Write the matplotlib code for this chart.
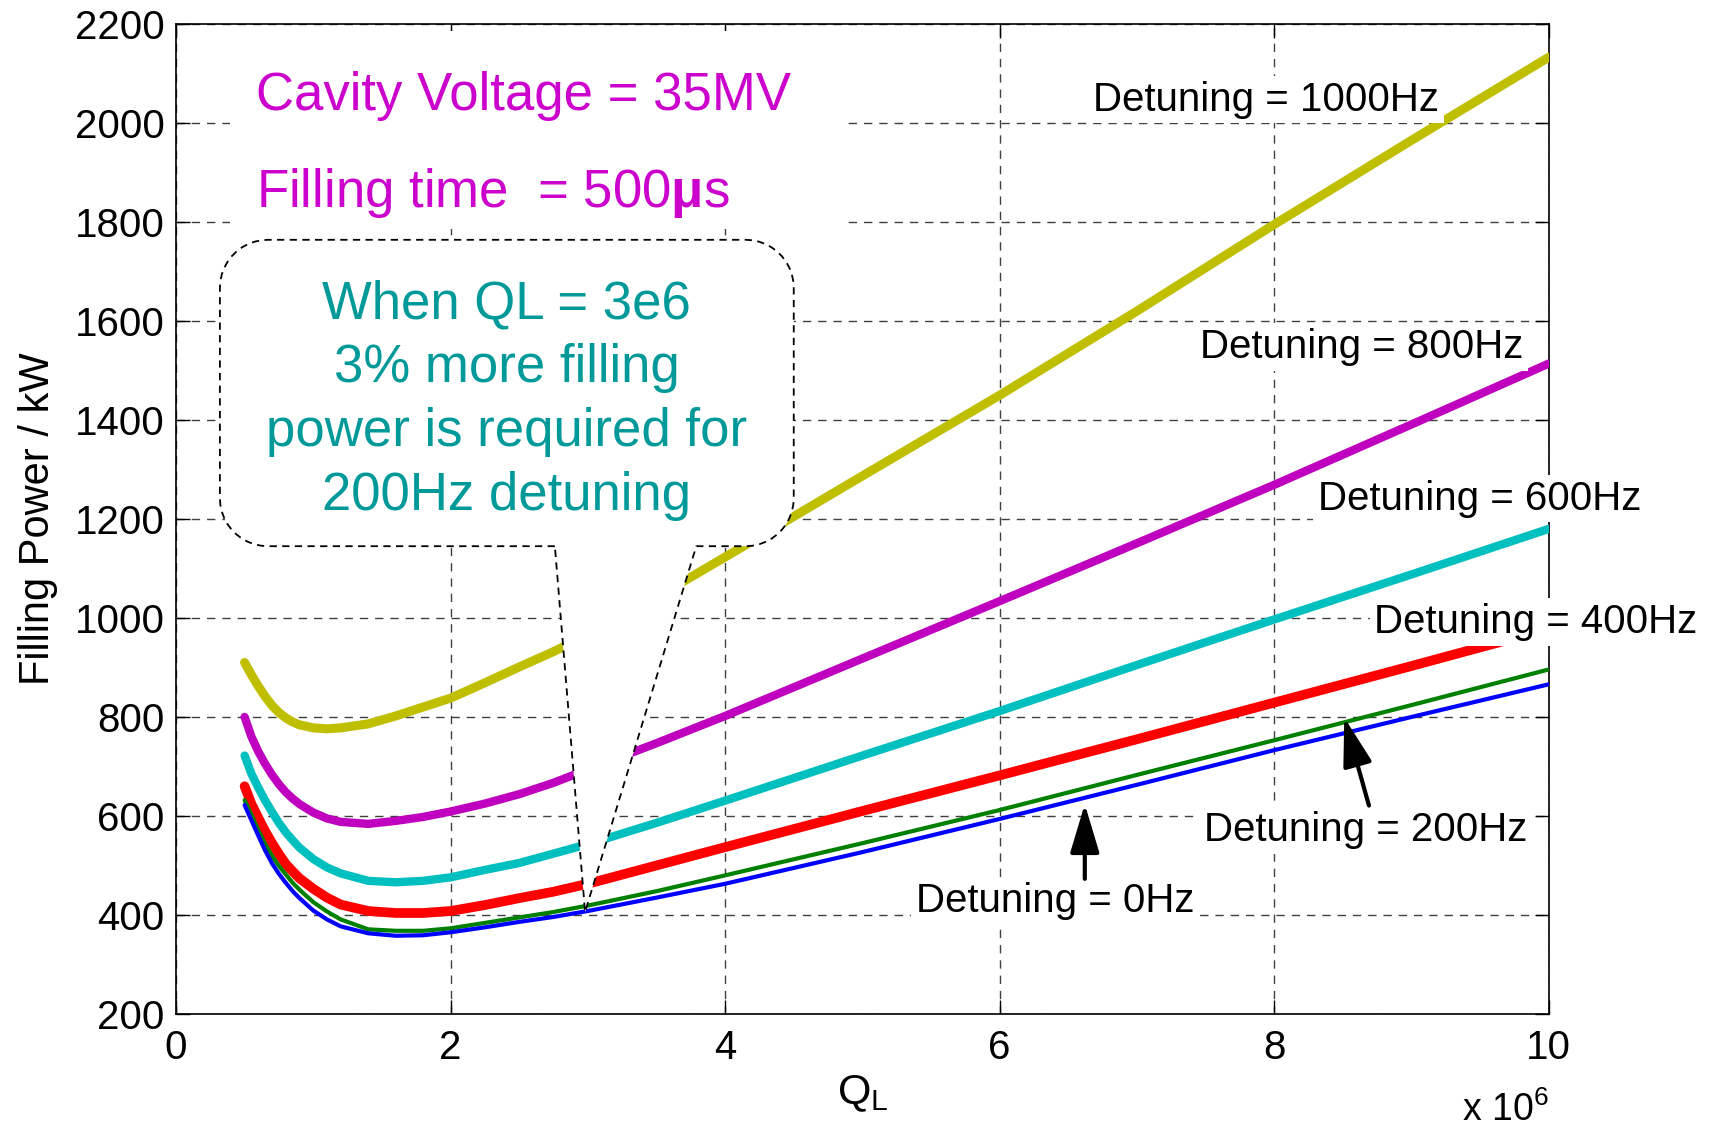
import numpy as np
import matplotlib
matplotlib.use("Agg")
import matplotlib.pyplot as plt
from matplotlib.patches import Polygon, Rectangle

plt.rcParams['font.family'] = ['Liberation Sans', 'DejaVu Sans']
plt.rcParams['mathtext.fontset'] = 'custom'
plt.rcParams['mathtext.rm'] = 'Liberation Sans'
plt.rcParams['mathtext.it'] = 'Liberation Sans:italic'
plt.rcParams['mathtext.bf'] = 'Liberation Sans:bold'

# loaded Q (x 1e6) and filling power (kW)
ql = [0.5, 0.55, 0.6, 0.65, 0.7, 0.75, 0.8, 0.85, 0.9, 1.0, 1.1, 1.2, 1.4,
      1.6, 1.8, 2.0, 2.25, 2.5, 2.75, 3.0, 3.5, 4, 5, 6, 7, 8, 9, 10]
p_1000 = [910, 885, 862, 841, 823, 809, 798, 790, 784, 778, 776, 778, 786,
          802, 820, 838, 869, 901, 932, 966, 1042, 1123, 1287, 1450, 1620,
          1795, 1965, 2133]
p_800 = [800, 760, 730, 705, 683, 664, 648, 635, 624, 607, 595, 588, 584,
         590, 598, 609, 625, 644, 667, 694, 747, 802, 918, 1034, 1151, 1269,
         1391, 1514]
p_600 = [722, 685, 657, 631, 608, 586, 567, 551, 536, 513, 496, 484, 469,
         466, 469, 476, 491, 505, 524, 543, 586, 631, 722, 812, 905, 997,
         1088, 1180]
p_400 = [660, 624, 596, 569, 545, 523, 503, 488, 474, 453, 435, 421, 408,
         404, 404, 408, 420, 434, 447, 463, 500, 537, 610, 682, 755, 829,
         903, 978]
p_200 = [632, 602, 571, 543, 519, 499, 482, 465, 451, 426, 407, 391, 371,
         368, 368, 373, 384, 395, 406, 419, 448, 480, 545, 612, 683, 753,
         824, 896]
p_0 = [622, 591, 560, 530, 504, 483, 465, 448, 434, 409, 391, 377, 363,
       358, 359, 365, 375, 386, 396, 408, 435, 463, 527, 594, 663, 733,
       800, 866]

curves = [
    (p_1000, '#bfbf00', 6.5),
    (p_800, '#bf00bf', 6.0),
    (p_600, '#00bfbf', 6.0),
    (p_400, '#ff0000', 7.0),
    (p_200, '#008000', 3.0),
    (p_0, '#0000ff', 3.0),
]

# curve labels: text, left x, baseline y
labels = [
    ("Detuning = 1000Hz", 6.68, 2025),
    ("Detuning = 800Hz", 7.46, 1525),
    ("Detuning = 600Hz", 8.32, 1219),
    ("Detuning = 400Hz", 8.73, 969),
    ("Detuning = 200Hz", 7.49, 549),
    ("Detuning = 0Hz", 5.39, 407),
]

note_lines = ["When QL = 3e6", "3% more filling", "power is required for", "200Hz detuning"]

fig = plt.figure(figsize=(17.15, 11.26), dpi=100)
ax = fig.add_axes([0.1026, 0.0995, 0.8005, 0.8792])

for vals, col, lw in curves:
    ax.plot(ql, vals, color=col, lw=lw, solid_capstyle='round',
            solid_joinstyle='round', zorder=3)

ax.set_xlim(0, 10)
ax.set_ylim(200, 2200)
ax.set_xticks([0, 2, 4, 6, 8, 10])
ax.set_yticks(range(200, 2201, 200))
ax.set_axisbelow(True)
ax.grid(True, color='0.25', lw=1.0, linestyle=(0, (6, 5)))
ax.tick_params(direction='in', length=10, width=1, top=True, right=True,
               labelsize=29)
ax.tick_params(axis='x', pad=11)
ax.tick_params(axis='y', pad=8)
for sp in ax.spines.values():
    sp.set_linewidth(1.2)

ax.set_ylabel("Filling Power / kW", fontsize=30)
ax.yaxis.set_label_coords(-0.086, 0.5)
ax.set_xlabel(r"Q$_{\mathrm{L}}$", fontsize=31)
ax.xaxis.set_label_coords(0.5, -0.06)
ax.text(1.0, -0.108, r"x 10$^{6}$", transform=ax.transAxes, ha='right',
        va='baseline', fontsize=27)

# white patch behind the magenta header text
ax.add_patch(Rectangle((0.39, 1786), 4.46, 400, facecolor='white',
                       edgecolor='none', zorder=1))
ax.text(0.58, 2026, "Cavity Voltage = 35MV", color='#cc00cc', fontsize=38,
        va='baseline', zorder=4)
ax.text(0.58, 1831, r"Filling time  = 500$\mathbf{\mu}$s", color='#cc00cc',
        fontsize=38, va='baseline', zorder=4)

# callout: rounded box with a wedge pointing at QL = 3e6
bx0, bx1, by0, by1 = 0.32, 4.50, 1145, 1764
w_left, w_right, tip = 2.76, 3.79, (2.98, 406)
r_px = 48
rx = r_px / (ax.get_position().width * 1715 / 10)
ry = r_px / (ax.get_position().height * 1126 / 2000)
t = np.linspace(0, np.pi / 2, 12)
pts = [(w_left, by0), (bx0 + rx, by0)]
pts += list(zip(bx0 + rx - rx * np.sin(t), by0 + ry - ry * np.cos(t)))
pts += list(zip(bx0 + rx - rx * np.cos(t), by1 - ry + ry * np.sin(t)))
pts += list(zip(bx1 - rx + rx * np.sin(t), by1 - ry + ry * np.cos(t)))
pts += list(zip(bx1 - rx + rx * np.cos(t), by0 + ry - ry * np.sin(t)))
pts += [(w_right, by0), tip]
ax.add_patch(Polygon(pts, closed=True, facecolor='white', edgecolor='black',
                     lw=1.3, linestyle=(0, (4, 3)), zorder=5))

note_y = [1606, 1477, 1348, 1219]
for line, yy in zip(note_lines, note_y):
    ax.text((bx0 + bx1) / 2, yy, line, color='#009999', fontsize=38,
            ha='center', va='baseline', zorder=6)

for txt, xx, yy in labels:
    ax.text(xx, yy, txt, fontsize=29, va='baseline', ha='left', zorder=7,
            clip_on=False,
            bbox=dict(boxstyle='square,pad=0.12', facecolor='white',
                      edgecolor='none'))

arrow = dict(arrowstyle='-|>,head_length=1.0,head_width=0.3', color='black',
             lw=3, shrinkA=0, shrinkB=0, mutation_scale=30)
ax.annotate("", xy=(6.62, 624), xytext=(6.62, 473), arrowprops=arrow, zorder=8)
ax.annotate("", xy=(8.51, 799), xytext=(8.69, 621), arrowprops=arrow, zorder=8)

fig.savefig("out.png", dpi=100)
